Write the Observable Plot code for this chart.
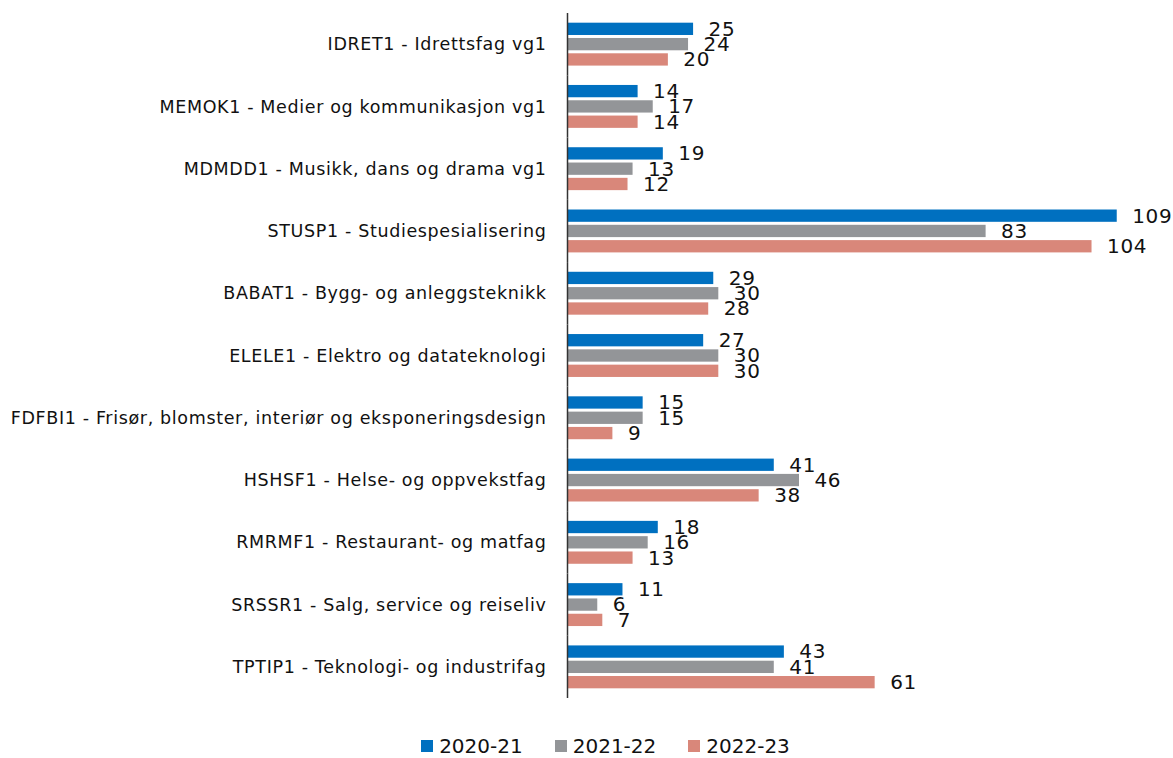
<!DOCTYPE html>
<html><head><meta charset="utf-8">
<script src="https://cdn.jsdelivr.net/npm/d3@7"></script>
<script src="https://cdn.jsdelivr.net/npm/@observablehq/plot@0.6"></script>
<style>
body{margin:0;background:#fff;font-family:"DejaVu Sans",sans-serif;}
#legend{display:flex;justify-content:center;gap:32px;font-size:20px;color:#111;margin-top:19px;padding-left:38px;}
#legend span.sw{display:inline-block;width:12px;height:12px;margin-right:6px;}
#legend div{display:flex;align-items:center;}
</style>
</head><body>
<div id="chart"></div>
<div id="legend"></div>
<script>
const categories = [
  "IDRET1 - Idrettsfag vg1",
  "MEMOK1 - Medier og kommunikasjon vg1",
  "MDMDD1 - Musikk, dans og drama vg1",
  "STUSP1 - Studiespesialisering",
  "BABAT1 - Bygg- og anleggsteknikk",
  "ELELE1 - Elektro og datateknologi",
  "FDFBI1 - Frisør, blomster, interiør og eksponeringsdesign",
  "HSHSF1 - Helse- og oppvekstfag",
  "RMRMF1 - Restaurant- og matfag",
  "SRSSR1 - Salg, service og reiseliv",
  "TPTIP1 - Teknologi- og industrifag"
];
const series = ["2020-21", "2021-22", "2022-23"];
const v2020 = [25, 14, 19, 109, 29, 27, 15, 41, 18, 11, 43];
const v2021 = [24, 17, 13, 83, 30, 30, 15, 46, 16, 6, 41];
const v2022 = [20, 14, 12, 104, 28, 30, 9, 38, 13, 7, 61];
const colors = ["#0070C0", "#939598", "#D9877A"];

const values = [v2020, v2021, v2022];
const data = [];
categories.forEach((c, i) => series.forEach((s, j) => data.push({category: c, series: s, value: values[j][i]})));

const font = "DejaVu Sans, sans-serif";
const chart = Plot.plot({
  width: 1173, height: 715,
  marginLeft: 567, marginRight: 26, marginTop: 13, marginBottom: 17,
  x: {domain: [0, 115], axis: null},
  y: {domain: series, axis: null, paddingInner: 0.196, paddingOuter: 0.633, round: false},
  fy: {domain: categories, padding: 0, round: false, axis: "left", label: null, tickSize: 0, tickPadding: 21},
  color: {domain: series, range: colors},
  style: {fontFamily: font, fontSize: "17.5px", letterSpacing: "0.65px", overflow: "visible", color: "#111"},
  marks: [
    Plot.barX(data, {x: "value", y: "series", fy: "category", fill: "series"}),
    Plot.text(data, {x: "value", y: "series", fy: "category", text: d => String(d.value), textAnchor: "start", dx: 15, fontSize: 20, fill: "#111"}),
    Plot.ruleX([0], {stroke: "#333", strokeWidth: 1.5})
  ]
});
document.getElementById("chart").appendChild(chart);

const legend = document.getElementById("legend");
legend.style.fontFamily = font;
series.forEach((s, i) => {
  const d = document.createElement("div");
  d.innerHTML = `<span class="sw" style="background:${colors[i]}"></span>${s}`;
  legend.appendChild(d);
});
</script>
</body></html>
